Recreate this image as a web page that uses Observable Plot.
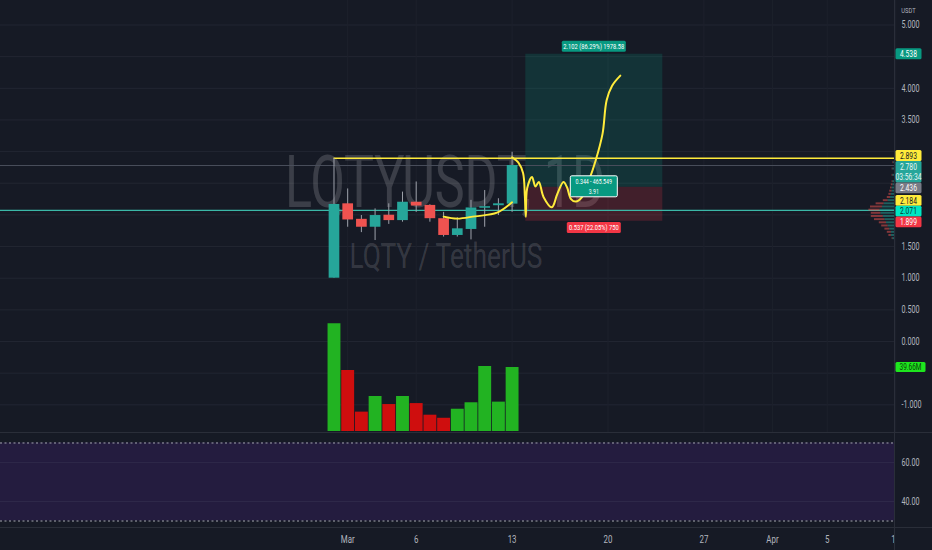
<!DOCTYPE html>
<html><head><meta charset="utf-8">
<script src="https://cdn.jsdelivr.net/npm/d3@7"></script>
<script src="https://cdn.jsdelivr.net/npm/@observablehq/plot@0.6"></script>
<style>
html,body{margin:0;padding:0;background:#161a25;}
#chart{position:relative;width:932px;height:550px;background:#161a25;overflow:hidden;}
#chart svg{position:absolute;left:0;overflow:visible;}
.sep{position:absolute;background:#2a2e39;}
</style></head><body><div id="chart"></div>
<script>
// ---------- data ----------
const symbolTitle = "LQTYUSDT, 1D";
const symbolSub = "LQTY / TetherUS";
const dates  = ["2023-02-28","2023-03-01","2023-03-02","2023-03-03","2023-03-04","2023-03-05","2023-03-06","2023-03-07","2023-03-08","2023-03-09","2023-03-10","2023-03-11","2023-03-12","2023-03-13"];
const opens  = [1.00, 2.175, 1.93, 1.805, 1.995, 1.91, 2.20, 2.15, 1.94, 1.675, 1.77, 2.105, 2.145, 2.17];
const highs  = [2.89, 2.41, 1.99, 2.095, 2.175, 2.36, 2.52, 2.16, 2.04, 1.955, 2.23, 2.385, 2.255, 2.99];
const lows   = [1.00, 1.805, 1.72, 1.595, 1.85, 1.885, 2.04, 1.885, 1.65, 1.65, 1.605, 1.805, 1.99, 2.04];
const closes = [2.165, 1.92, 1.805, 1.99, 1.91, 2.20, 2.14, 1.94, 1.675, 1.78, 2.11, 2.13, 2.175, 2.78];
const volumes = [66.7, 37.8, 12.0, 21.7, 16.7, 21.7, 17.3, 10.1, 8.2, 13.8, 17.8, 40.3, 18.2, 39.66]; // millions
const volumeTagText = "39.66M";

const priceTicks = [-1, 0, 0.5, 1, 1.5, 3.5, 4, 5];
const gridLevels = [-1, -0.5, 0, 0.5, 1, 1.5, 2, 2.5, 3, 3.5, 4, 4.5, 5];
const tickDates  = ["2023-03-01","2023-03-06","2023-03-13","2023-03-20","2023-03-27","2023-04-01","2023-04-05","2023-04-10"];
const tickLabels = ["Mar","6","13","20","27","Apr","5","10"];

const lastClose = 2.780;
const supportLevel = 2.071;
const rayLevel = 2.893;
const rayStart = "2023-02-28";

// long position tool
const posStart = "2023-03-14", posEnd = "2023-03-24";
const posTarget = 4.538, posEntry = 2.436, posStop = 1.899;
const posTopText = "2.102 (86.29%) 1978.58";
const posBottomText = "0.537 (22.05%) 750";
const posMidText = ["0.344 - 465.549", "3.91"];

// axis tags
const tagPrices = [4.538, 2.893, 2.780, 2.436, 2.184, 2.071, 1.899];
const tagTexts  = [["4.538"], ["2.893"], ["2.780", "03:56:34"], ["2.436"], ["2.184"], ["2.071"], ["1.899"]];

// hand-drawn yellow lines (day offset from Feb 28, price)
const drawADay   = [8.0, 9.0, 10.3, 11.9, 13.0];
const drawAPrice = [1.972, 1.94, 1.978, 2.035, 2.20];
const drawBDay   = [13.0, 13.45, 13.8, 13.93, 14.0, 14.1, 14.45, 14.7, 14.95, 15.3, 15.9, 16.3, 16.75, 17.0, 17.3, 17.65, 18.1, 18.6, 19.1, 19.6, 19.9, 20.3, 20.9];
const drawBPrice = [2.91, 2.83, 2.66, 2.3, 1.97, 2.42, 2.6, 2.45, 2.52, 2.28, 2.12, 2.33, 2.52, 2.44, 2.25, 2.21, 2.28, 2.54, 2.86, 3.28, 3.81, 4.04, 4.2];

// visible range volume profile
const vpLow  = [1.60,1.65,1.70,1.75,1.80,1.85,1.90,1.95,2.00,2.05,2.10,2.15,2.20,2.25,2.30,2.35,2.40,2.45,2.50,2.60,2.70,2.80];
const vpUp   = [2, 4, 4, 6, 8, 10, 12, 14, 17, 18, 15, 13, 8, 5, 4, 3, 3, 2, 2, 2, 2, 1];
const vpDown = [1, 3, 5, 6, 8, 9, 13, 15, 12, 14, 15, 10, 6, 4, 3, 3, 2, 2, 1, 1, 1, 1];
const vpStep = 0.05;

// RSI pane
const rsiTicks = [40, 60];
const rsiBandLevels = [30, 70];

// ---------- layout / styles ----------
const FONT = "Roboto, 'Liberation Sans', sans-serif";
const W = 932, RIGHT = 38;
const DAY = 864e5;
const t0 = Date.UTC(2023, 1, 28);
const xDomain = [new Date(t0 - 24.34 * DAY), new Date(t0 + 40.91 * DAY)];
const UP = "#26a69a", DOWN = "#ef5350";
const VUP = "#22b322", VDOWN = "#cf0e0e";
const tagStyles = [
  {bg: "#089981", fg: "#ffffff"},
  {bg: "#ffeb3b", fg: "#131722"},
  {bg: "#26a69a", fg: "#e9f7f5"},
  {bg: "#787b86", fg: "#ffffff"},
  {bg: "#ffeb3b", fg: "#131722"},
  {bg: "#00e6c3", fg: "#08372f"},
  {bg: "#f23645", fg: "#ffffff"}
];

const candles = dates.map((d, i) => ({date: new Date(d), open: opens[i], high: highs[i], low: lows[i], close: closes[i], vol: volumes[i]}));
const isUp = d => d.close >= d.open;
const drawA = drawADay.map((d, i) => ({date: new Date(t0 + d * DAY), price: drawAPrice[i]}));
const drawB = drawBDay.map((d, i) => ({date: new Date(t0 + d * DAY), price: drawBPrice[i]}));
const zones = [
  {start: new Date(posStart), end: new Date(posEnd), lo: posEntry, hi: posTarget, fill: "#089981"},
  {start: new Date(posStart), end: new Date(posEnd), lo: posStop, hi: posEntry, fill: "#f23645"}
];
const rays = [{price: rayLevel, start: new Date(rayStart), end: xDomain[1]}];
const vpRows = vpLow.map((p, i) => ({y1: p, y2: p + vpStep, up: vpUp[i], down: vpDown[i]}));
const ticks = tickDates.map((d, i) => ({date: new Date(d), label: tickLabels[i]}));

const baseStyle = {background: "transparent", color: "#b2b5be", fontFamily: FONT, fontSize: "10px", overflow: "visible"};
const yPrice = {domain: [-1.4534, 5.387]};

// ---------- custom render marks ----------
function watermark(index, scales, values, dims) {
  const g = d3.create("svg:g");
  const cx = dims.marginLeft + (dims.width - dims.marginLeft - dims.marginRight) / 2 - 2;
  g.append("text").attr("class", "nosq").attr("x", cx).attr("y", 207).attr("text-anchor", "middle")
    .attr("font-size", 73).attr("font-family", FONT).attr("textLength", 320).attr("lengthAdjust", "spacingAndGlyphs")
    .attr("fill", "rgba(255,255,255,0.16)").text(symbolTitle);
  g.append("text").attr("class", "nosq").attr("x", cx + 1).attr("y", 268).attr("text-anchor", "middle")
    .attr("font-size", 35).attr("font-family", FONT).attr("textLength", 193).attr("lengthAdjust", "spacingAndGlyphs")
    .attr("fill", "rgba(255,255,255,0.15)").text(symbolSub);
  return g.node();
}

function box(g, cx, cy, w, h, bg, fg, lines, fs, stroke) {
  const r = g.append("rect").attr("x", cx - w / 2).attr("y", cy - h / 2).attr("width", w).attr("height", h).attr("fill", bg).attr("rx", 1.5);
  if (stroke) r.attr("stroke", stroke).attr("stroke-width", 1);
  const lh = h / lines.length;
  lines.forEach((s, j) => g.append("text").attr("x", cx).attr("y", cy - h / 2 + lh * j + lh / 2).attr("dy", "0.36em")
    .attr("text-anchor", "middle").attr("fill", fg).attr("font-size", fs).text(s));
}

function positionTags(index, scales, values, dims) {
  const g = d3.create("svg:g");
  const cx = (scales.x(new Date(posStart)) + scales.x(new Date(posEnd))) / 2;
  box(g, cx, scales.y(posTarget) - 7.5, 64, 11, "#089981", "#ffffff", [posTopText], 8);
  box(g, cx, scales.y(posStop) + 6.8, 54, 11, "#f23645", "#ffffff", [posBottomText], 8);
  box(g, cx, scales.y(posEntry) - 0.5, 47, 21, "#089981", "#ffffff", posMidText, 7.3, "#ffffff");
  return g.node();
}

function priceTags(index, scales, values, dims) {
  const g = d3.create("svg:g");
  const x0 = dims.width - dims.marginRight + 1.5, w = 26, lh = 10.8;
  const items = tagPrices.map((p, i) => {
    const y = scales.y(p);
    return {lines: tagTexts[i], ...tagStyles[i], top: y - lh / 2, h: lh * tagTexts[i].length};
  }).sort((a, b) => a.top - b.top);
  for (let k = 0; k < 40; k++) for (let i = 1; i < items.length; i++) {
    const p = items[i - 1], c = items[i];
    const ov = p.top + p.h - c.top;
    if (ov > 0) { p.top -= ov / 2; c.top += ov / 2; }
  }
  for (const it of items) box(g, x0 + w / 2, it.top + it.h / 2, w, it.h, it.bg, it.fg, it.lines, 9.3);
  g.append("text").attr("x", x0 + 13).attr("y", 10).attr("dy", "0.35em").attr("text-anchor", "middle")
    .attr("fill", "#b2b5be").attr("font-size", 8).text("USDT");
  return g.node();
}

function volumeTag(index, scales, values, dims) {
  const g = d3.create("svg:g");
  const x0 = dims.width - dims.marginRight + 1.5;
  box(g, x0 + 15, scales.y(volumes[volumes.length - 1]), 30, 10, "#1ee61e", "#0a3d0a", [volumeTagText], 9);
  return g.node();
}

// ---------- plots ----------
const volPlot = Plot.plot({
  width: W, height: 433, marginLeft: 0, marginRight: RIGHT, marginTop: 0, marginBottom: 0,
  style: baseStyle,
  x: {type: "utc", domain: xDomain, axis: null},
  y: {domain: [0, 100], range: [431, 431 - 161.4], axis: null},
  color: {type: "identity"},
  marks: [
    Plot.ruleX(candles, {x: "date", y1: 0, y2: "vol", stroke: d => isUp(d) ? VUP : VDOWN, strokeWidth: 12.9}),
    volumeTag
  ]
});

const pricePlot = Plot.plot({
  width: W, height: 433, marginLeft: 0, marginRight: RIGHT, marginTop: 0, marginBottom: 0,
  style: baseStyle,
  x: {type: "utc", domain: xDomain, axis: null},
  y: {...yPrice, axis: "right", ticks: priceTicks, tickFormat: d => d.toFixed(3), tickSize: 0, tickPadding: 7, label: null},
  color: {type: "identity"},
  marks: [
    Plot.ruleY(gridLevels, {stroke: "#222632", strokeWidth: 1}),
    Plot.ruleX(ticks, {x: "date", stroke: "#1d212c", strokeWidth: 1}),
    watermark,
    Plot.rect(zones, {x1: "start", x2: "end", y1: "lo", y2: "hi", fill: "fill", fillOpacity: 0.2}),
    Plot.ruleY([lastClose], {stroke: "#4a4f5c", strokeWidth: 1}),
    Plot.ruleY([supportLevel], {stroke: "#3bb7a7", strokeWidth: 1.3}),
    Plot.ruleY(rays, {y: "price", x1: "start", x2: "end", stroke: "#ffeb3b", strokeWidth: 1.5}),
    Plot.ruleX(candles, {x: "date", y1: "low", y2: "high", stroke: "#9ea2ab", strokeWidth: 1}),
    Plot.ruleX(candles, {x: "date", y1: "open", y2: "close", stroke: d => isUp(d) ? UP : DOWN, strokeWidth: 10.7}),
    Plot.line(drawA, {x: "date", y: "price", stroke: "#ffeb3b", strokeWidth: 1.8, curve: "catmull-rom"}),
    Plot.line(drawB, {x: "date", y: "price", stroke: "#ffeb3b", strokeWidth: 2, curve: "catmull-rom"}),
    positionTags,
    priceTags
  ]
});

const vpPlot = Plot.plot({
  width: W, height: 433, marginLeft: 0, marginRight: RIGHT, marginTop: 0, marginBottom: 0,
  style: baseStyle,
  x: {domain: [0, 40], range: [W - RIGHT, W - RIGHT - 32], axis: null},
  y: {...yPrice, axis: null},
  marks: [
    Plot.rect(vpRows, {x1: 0, x2: "up", y1: "y1", y2: "y2", fill: "#26a69a", fillOpacity: 0.5, insetTop: 0.6, insetBottom: 0.6}),
    Plot.rect(vpRows, {x1: "up", x2: d => d.up + d.down, y1: "y1", y2: "y2", fill: "#ef5350", fillOpacity: 0.5, insetTop: 0.6, insetBottom: 0.6})
  ]
});

const rsiPlot = Plot.plot({
  width: W, height: 94, marginLeft: 0, marginRight: RIGHT, marginTop: 0, marginBottom: 0,
  style: baseStyle,
  x: {type: "utc", domain: xDomain, axis: null},
  y: {domain: [26.67, 74.87], axis: "right", ticks: rsiTicks, tickFormat: d => d.toFixed(2), tickSize: 0, tickPadding: 7, label: null},
  marks: [
    Plot.rectY([{lo: rsiBandLevels[0], hi: rsiBandLevels[1]}], {y1: "lo", y2: "hi", fill: "#241c3f"}),
    Plot.ruleY(rsiTicks, {stroke: "#2e2849"}),
    Plot.ruleY(rsiBandLevels, {stroke: "#a3a6af", strokeDasharray: "2,2.5", strokeWidth: 1})
  ]
});

const timePlot = Plot.plot({
  width: W, height: 23, marginLeft: 0, marginRight: RIGHT, marginTop: 0, marginBottom: 0,
  style: {...baseStyle, fontSize: "11px"},
  x: {type: "utc", domain: xDomain, axis: null},
  marks: [
    Plot.text(ticks, {x: "date", text: "label", fill: "#b2b5be", fontSize: 11, clip: true})
  ]
});

// ---------- assemble ----------
const chart = document.getElementById("chart");
function place(svg, top) { svg.style.top = top + "px"; chart.appendChild(svg); }
place(pricePlot, 0);
place(volPlot, 0);
place(vpPlot, 0);
place(rsiPlot, 433);
place(timePlot, 527);
function sep(css) { const d = document.createElement("div"); d.className = "sep"; Object.assign(d.style, css); chart.appendChild(d); }
sep({left: "0px", top: "432px", width: W + "px", height: "1px"});
sep({left: "0px", top: "527px", width: W + "px", height: "1px"});
sep({left: (W - RIGHT) + "px", top: "0px", width: "1px", height: "550px"});

// condense text horizontally to match the narrow type of the reference
function squeeze(svg, sx) {
  svg.querySelectorAll("text").forEach(t => {
    if (t.classList.contains("nosq")) return;
    const tr = t.getAttribute("transform") || "";
    const x = +(t.getAttribute("x") || 0);
    t.setAttribute("transform", `${tr} translate(${x},0) scale(${sx},1) translate(${-x},0)`);
  });
}
[pricePlot, volPlot, rsiPlot, timePlot].forEach(s => squeeze(s, 0.72));
</script></body></html>
